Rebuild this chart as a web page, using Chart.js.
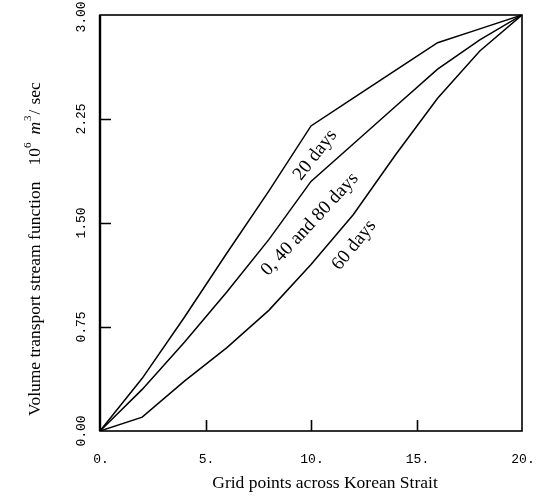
<!DOCTYPE html>
<html>
<head>
<meta charset="utf-8">
<script src="https://cdn.jsdelivr.net/npm/chart.js@4"></script>
<style>
  html, body { margin: 0; padding: 0; background: #fff; }
  #chart { display: block; }
</style>
</head>
<body>
<canvas id="chart" width="544" height="497"></canvas>
<script>
// Grid points across the strait (x) and stream function values (10^6 m^3/sec)
const gridPoints = [0, 2, 4, 6, 8, 10, 12, 14, 16, 18, 20];
const days20 = [0, 0.38, 0.82, 1.28, 1.73, 2.20, 2.40, 2.60, 2.80, 2.90, 3.00];
const days0_40_80 = [0, 0.30, 0.64, 1.00, 1.38, 1.80, 2.07, 2.34, 2.61, 2.82, 3.00];
const days60 = [0, 0.10, 0.36, 0.60, 0.87, 1.20, 1.56, 1.99, 2.40, 2.74, 3.00];

const xTicks = [0, 5, 10, 15, 20];
const xTickLabels = ['0.', '5.', '10.', '15.', '20.'];
const yTicks = [0, 0.75, 1.5, 2.25, 3.0];
const yTickLabels = ['0.00', '0.75', '1.50', '2.25', '3.00'];

// curve captions, anchored in data units
const curveLabels = [
    { text: '20 days', x: 10.2, y: 1.99, angle: -52 },
    { text: '0, 40 and 80 days', x: 9.95, y: 1.49, angle: -47 },
    { text: '60 days', x: 12.04, y: 1.34, angle: -51 }
];

const SERIF = '"Liberation Serif", "DejaVu Serif", serif';
const MONO = '"Liberation Mono", "DejaVu Sans Mono", monospace';

const toPoints = vals => vals.map((v, i) => ({ x: gridPoints[i], y: v }));

const lineStyle = {
    borderColor: '#000',
    borderWidth: 1.5,
    pointRadius: 0,
    tension: 0,
    fill: false
};

// Frame, inward ticks, rotated tick labels, titles and curve captions
const figurePlugin = {
    id: 'figure',
    afterDraw(chart) {
        const { ctx, chartArea: a, scales: { x, y } } = chart;
        ctx.save();
        ctx.strokeStyle = '#000';
        ctx.fillStyle = '#000';
        ctx.lineWidth = 1.6;
        ctx.strokeRect(a.left, a.top, a.right - a.left, a.bottom - a.top);
        // left axis is drawn a little heavier in the original
        ctx.lineWidth = 2.4;
        ctx.beginPath();
        ctx.moveTo(a.left, a.top);
        ctx.lineTo(a.left, a.bottom);
        ctx.stroke();

        // inward tick marks on left and bottom
        ctx.lineWidth = 1.6;
        ctx.beginPath();
        yTicks.slice(1, -1).forEach(v => {
            const py = Math.round(y.getPixelForValue(v)) + 0.5;
            ctx.moveTo(a.left, py);
            ctx.lineTo(a.left + 11, py);
        });
        xTicks.slice(1, -1).forEach(v => {
            const px = Math.round(x.getPixelForValue(v)) + 0.5;
            ctx.moveTo(px, a.bottom);
            ctx.lineTo(px, a.bottom - 11);
        });
        ctx.stroke();

        // tick labels
        ctx.font = '13px ' + MONO;
        ctx.textAlign = 'center';
        ctx.textBaseline = 'middle';
        xTicks.forEach((v, i) => {
            ctx.fillText(xTickLabels[i], x.getPixelForValue(v) + 1, a.bottom + 29);
        });
        yTicks.forEach((v, i) => {
            ctx.save();
            ctx.translate(a.left - 18, y.getPixelForValue(v) + (i === yTicks.length - 1 ? 2 : 0));
            ctx.rotate(-Math.PI / 2);
            ctx.fillText(yTickLabels[i], 0, 0);
            ctx.restore();
        });

        // x title
        ctx.font = '17.5px ' + SERIF;
        ctx.fillText('Grid points across Korean Strait', (a.left + a.right) / 2 + 14, a.bottom + 52);

        // y title with superscripts and italic m, read bottom to top
        const parts = [
            { t: 'Volume transport stream function', f: '17.5px ' + SERIF, dy: 0, gap: 16 },
            { t: '10', f: '17.5px ' + SERIF, dy: 0, gap: 0 },
            { t: '6', f: '11px ' + SERIF, dy: -7, gap: 8 },
            { t: 'm', f: 'italic 17.5px ' + SERIF, dy: 0, gap: 1 },
            { t: '3', f: '11px ' + SERIF, dy: -7, gap: 1 },
            { t: '/', f: '17.5px ' + SERIF, dy: 0, gap: 5 },
            { t: 'sec', f: '17.5px ' + SERIF, dy: 0, gap: 0 }
        ];
        ctx.save();
        ctx.translate(35, a.bottom - 15);
        ctx.rotate(-Math.PI / 2);
        ctx.textAlign = 'left';
        let cx = 0;
        parts.forEach(p => {
            ctx.font = p.f;
            ctx.fillText(p.t, cx, p.dy);
            cx += ctx.measureText(p.t).width + p.gap;
        });
        ctx.restore();

        // curve captions
        ctx.font = '19px ' + SERIF;
        ctx.textAlign = 'center';
        curveLabels.forEach(l => {
            ctx.save();
            ctx.translate(x.getPixelForValue(l.x), y.getPixelForValue(l.y));
            ctx.rotate(l.angle * Math.PI / 180);
            ctx.fillText(l.text, 0, 0);
            ctx.restore();
        });
        ctx.restore();
    }
};

new Chart(document.getElementById('chart'), {
    type: 'line',
    data: {
        datasets: [
            { label: '20 days', data: toPoints(days20), ...lineStyle },
            { label: '0, 40 and 80 days', data: toPoints(days0_40_80), ...lineStyle },
            { label: '60 days', data: toPoints(days60), ...lineStyle }
        ]
    },
    options: {
        responsive: false,
        devicePixelRatio: 1,
        animation: false,
        layout: { padding: { top: 15, right: 22, bottom: 0, left: 0 } },
        plugins: { legend: { display: false }, tooltip: { enabled: false } },
        scales: {
            x: {
                type: 'linear',
                min: 0,
                max: 20,
                ticks: { display: false },
                grid: { display: false },
                border: { display: false },
                afterFit(scale) { scale.height = 66; }
            },
            y: {
                type: 'linear',
                min: 0,
                max: 3,
                ticks: { display: false },
                grid: { display: false },
                border: { display: false },
                afterFit(scale) { scale.width = 100; }
            }
        }
    },
    plugins: [figurePlugin]
});
</script>
</body>
</html>
